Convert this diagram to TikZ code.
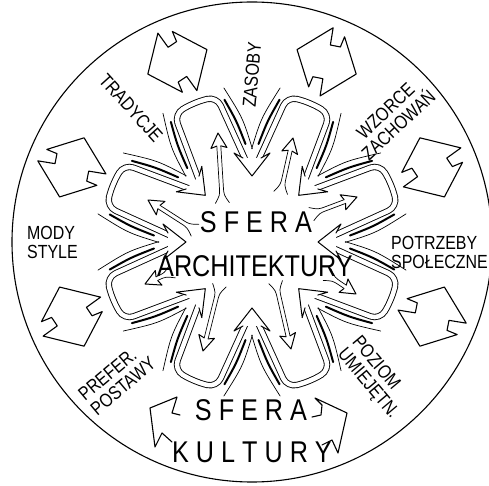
\documentclass[tikz,border=0pt]{standalone}
\usepackage{fontspec}
\setmainfont{Liberation Sans}
\newfontfamily\handletters{Liberation Sans}[FakeStretch=0.84]
\newfontfamily\bigletters{Liberation Sans}[FakeStretch=0.84]
\tikzset{
  pen/.style={line width=1.1pt, line join=round, line cap=round},
  thinline/.style={line width=0.7pt, line cap=round},
  channel/.style={line width=0.9pt, double=white, double distance=4.5pt, rounded corners=10pt},
  streak/.style={line width=2pt, line cap=round},
  headshape/.style={pen, line width=1pt, fill=white},
  lbl/.style={font=\handletters\fontsize{19}{19}\selectfont, align=left, inner sep=0pt},
  biglbl/.style={font=\bigletters\fontsize{30}{30}\selectfont, inner sep=0pt},
  exch/.pic={
    \draw[pen, fill=white] (0,32) -- (34,7) -- (17,3) -- (19,-7) -- (30,-7) -- (0,-32)
      -- (-34,-7) -- (-17,-3) -- (-19,7) -- (-30,7) -- cycle;
  }
}

\begin{document}
\begin{tikzpicture}[x=1pt, y=1pt]
\path[use as bounding box, fill=white] (-252,-244) rectangle (237,242);
\draw[pen] (0,0) circle[radius=240pt];

% petals of the inner sphere
\foreach \a in {22.5,67.5,112.5,157.5,202.5,247.5,292.5,337.5}{
  \begin{scope}[rotate=\a]
    \draw[channel] (74,-25.5) -- (148,-23) -- (151,0) -- (148,23) -- (74,25.5);
    \foreach \s in {1,-1}{
      \begin{scope}[yscale=\s]
        \draw[thinline] (86,-36) .. controls (118,-39) .. (153,-33);
        \draw[streak] (93,-31.5) .. controls (118,-32) .. (142,-29);
      \end{scope}
    }
  \end{scope}
}

% inflow heads
\foreach \a in {0,45,90,135,180,225,270,315}
  \draw[headshape, rotate=\a] (84,-9) -- (89,-18) -- (66,0) -- (89,18) -- (84,9);

% outflow arrows
\foreach \tx/\ty/\hx/\hy in {-30/45/-34/109, 30/55/41/104, 65/30/105/45, 80/-36/104/-52,
    25/-46/39/-107, -34/-49/-49/-109, -85/-32/-107/-42, -62/15/-104/42}{
  \pgfmathsetmacro{\ang}{atan2((\hy)-(\ty),(\hx)-(\tx))}
  \pgfmathsetmacro{\len}{veclen((\hx)-(\tx),(\hy)-(\ty))}
  \begin{scope}[shift={(\tx,\ty)}, rotate=\ang]
    \draw[thinline] (-6,7) .. controls (2,2) .. (10,2) -- (\len-13,2);
    \draw[thinline] (-6,-7) .. controls (2,-2) .. (10,-2) -- (\len-13,-2);
    \draw[headshape] (\len-13,2) -- (\len-15,8) -- (\len,0) -- (\len-15,-8) -- (\len-13,-2);
  \end{scope}
}

% exchange with the outer sphere
\foreach \a in {22.5,67.5,112.5,157.5,202.5,337.5}
  \pic[rotate=\a] at (\a:195) {exch};
\draw[pen] (-72,-173) -- (-80,-171) -- (-75,-155) -- (-102,-166) -- (-97,-205) -- (-90,-191) -- (-80,-200);
\draw[pen] (60,-175) -- (69,-173) -- (70,-163) -- (63,-156) -- (95,-171) -- (86,-211) -- (80,-198) -- (70,-203);

\node[biglbl] (sferaA) at (4,20) {S F E R A};
\node[biglbl] (archit) at (3,-24) {ARCHITEKTURY};
\node[biglbl] (sferaK) at (-1,-168) {S F E R A};
\node[biglbl] (kultury) at (0,-210) {K U L T U R Y};

\node[lbl, rotate=-48] (tradycje) at (-121,134) {TRADYCJE};
\node[lbl, rotate=85] (zasoby) at (0,167) {ZASOBY};
\node[lbl, rotate=43, align=center] (wzorce) at (140,124) {WZORCE\\ZACHOWAŃ};
\node[lbl, anchor=west] (potrzeby) at (139,-10) {POTRZEBY\\SPOŁECZNE};
\node[lbl, rotate=-50] (poziom) at (123,-136) {POZIOM\\UMIEJĘTN.};
\node[lbl, rotate=40] (prefer) at (-135,-137) {PREFER.\\POSTAWY};
\node[lbl, anchor=west] (mody) at (-225,0) {MODY\\STYLE};
\end{tikzpicture}
\end{document}
